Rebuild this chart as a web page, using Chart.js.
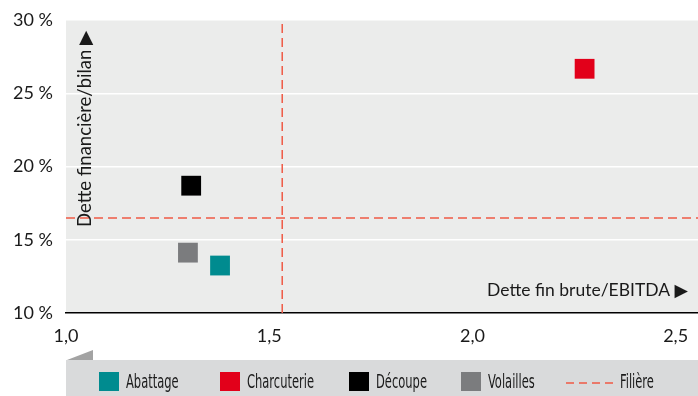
<!DOCTYPE html>
<html>
<head>
<meta charset="utf-8">
<script src="https://cdn.jsdelivr.net/npm/chart.js@4"></script>
<style>
  html, body { margin: 0; padding: 0; background: #fff; }
  #wrap { width: 698px; height: 396px; }
</style>
</head>
<body>
<div id="wrap"><canvas id="scatterChart" width="698" height="396"></canvas></div>
<script>
// Positionnement des secteurs : dette fin brute/EBITDA vs dette financière/bilan

const secteurs = ["Abattage", "Charcuterie", "Découpe", "Volailles"];
const detteEbitda = [1.379, 2.276, 1.308, 1.300];
const detteBilan = [13.24, 26.67, 18.69, 14.12];
const couleurs = ["#008b8f", "#e2001a", "#000000", "#7b7c7e"];

const filiereLabel = "Filière";
const filiereX = 1.532;   // moyenne filière dette/EBITDA
const filiereY = 16.48;   // moyenne filière dette/bilan

const xTicks = [1.0, 1.5, 2.0, 2.5];
const yTicks = [10, 15, 20, 25, 30];
const xMin = 1.0, xMax = 2.555;
const yMin = 10, yMax = 30;

const titreX = "Dette fin brute/EBITDA ▶";
const titreY = "Dette financière/bilan ▶";

const FONT = "'Lato', 'DejaVu Sans', sans-serif";
const FONT_LEG = "'Liberation Sans Narrow', 'DejaVu Sans Condensed', sans-serif";
const ROUGE_FIL = "#ef5a45";

const datasets = secteurs.map((nom, i) => ({
  type: "scatter",
  label: nom,
  data: [{ x: detteEbitda[i], y: detteBilan[i] }],
  backgroundColor: couleurs[i],
  borderColor: couleurs[i],
  borderWidth: 0,
  pointStyle: "rect",
  pointRadius: 14,
  pointHoverRadius: 14,
  order: 1
}));

// lignes de la filière (verticale + horizontale)
datasets.push({
  type: "line",
  label: filiereLabel,
  data: [{ x: filiereX, y: yMin }, { x: filiereX, y: yMax }],
  borderColor: ROUGE_FIL,
  borderWidth: 1.5,
  borderDash: [9, 5],
  pointRadius: 0,
  fill: false,
  order: 2
});
datasets.push({
  type: "line",
  label: "_hline",
  data: [{ x: xMin, y: filiereY }, { x: xMax, y: filiereY }],
  borderColor: ROUGE_FIL,
  borderWidth: 1.5,
  borderDash: [9, 5],
  pointRadius: 0,
  fill: false,
  order: 2
});

const fondPlot = {
  id: "fondPlot",
  beforeDraw(chart) {
    const { ctx, chartArea: a } = chart;
    ctx.save();
    ctx.fillStyle = "#ebeceb";
    ctx.fillRect(a.left, a.top, a.right - a.left, a.bottom - a.top);
    ctx.restore();
  }
};

const titres = {
  id: "titres",
  afterDatasetsDraw(chart) {
    const { ctx, chartArea: a } = chart;
    ctx.save();
    ctx.fillStyle = "#1a1a1a";
    ctx.font = "17.5px " + FONT;
    ctx.textBaseline = "middle";
    ctx.textAlign = "right";
    ctx.fillText(titreX, a.right - 10, a.bottom - 23);
    ctx.font = "18.5px " + FONT;
    ctx.translate(a.left + 19, 227);
    ctx.rotate(-Math.PI / 2);
    ctx.textAlign = "left";
    ctx.fillText(titreY, 0, 0);
    ctx.restore();
  }
};

// texte étroit façon "condensed"
function texteEtroit(ctx, txt, x, y, sx) {
  ctx.save();
  ctx.translate(x, y);
  ctx.scale(sx, 1);
  ctx.fillText(txt, 0, 0);
  ctx.restore();
}

const legende = {
  id: "legende",
  afterDraw(chart) {
    const { ctx } = chart;
    const top = 360, left = 66, right = 698, bottom = 396;
    ctx.save();
    // petit triangle
    ctx.fillStyle = "#a3a3a3";
    ctx.beginPath();
    ctx.moveTo(67, top);
    ctx.lineTo(93, top);
    ctx.lineTo(93, 350);
    ctx.closePath();
    ctx.fill();
    ctx.fillStyle = "#d9dadb";
    ctx.fillRect(left, top, right - left, bottom - top);

    const xs = [99, 220, 349, 461, 566];
    const cy = 383;
    ctx.font = "20px " + FONT_LEG;
    ctx.textBaseline = "middle";
    ctx.textAlign = "left";
    // largeur visée pour "Charcuterie" ~ 67 px
    const sx = Math.min(1, 67 / ctx.measureText("Charcuterie").width);
    chart.data.datasets.forEach((ds, i) => {
      if (ds.label.startsWith("_")) return;
      const x = xs[i];
      if (ds.type === "line") {
        ctx.strokeStyle = ds.borderColor;
        ctx.lineWidth = 1.6;
        ctx.setLineDash([8, 5]);
        ctx.beginPath();
        ctx.moveTo(x, cy);
        ctx.lineTo(x + 48, cy);
        ctx.stroke();
        ctx.setLineDash([]);
        ctx.fillStyle = "#1a1a1a";
        texteEtroit(ctx, ds.label, x + 54, cy, sx);
      } else {
        ctx.fillStyle = ds.backgroundColor;
        ctx.fillRect(x, 372, 20, 19);
        ctx.fillStyle = "#1a1a1a";
        texteEtroit(ctx, ds.label, x + 27, cy, sx);
      }
    });
    ctx.restore();
  }
};

const fmtX = v => v.toFixed(1).replace(".", ",");

new Chart(document.getElementById("scatterChart").getContext("2d"), {
  type: "scatter",
  data: { datasets: datasets },
  options: {
    responsive: false,
    animation: false,
    layout: { autoPadding: false, padding: { top: 20, right: 0, bottom: 43, left: 0 } },
    plugins: {
      legend: { display: false },
      tooltip: { enabled: false }
    },
    scales: {
      x: {
        type: "linear",
        min: xMin,
        max: xMax,
        afterBuildTicks: s => { s.ticks = xTicks.map(v => ({ value: v })); },
        afterFit: s => { s.height = 40; s.paddingLeft = 0; s.paddingRight = 0; },
        grid: { display: false, drawTicks: false },
        border: { display: true, color: "#000", width: 1.5 },
        ticks: {
          padding: 12,
          color: "#1a1a1a",
          font: { family: FONT, size: 18 },
          callback: v => fmtX(v),
          maxRotation: 0
        }
      },
      y: {
        type: "linear",
        min: yMin,
        max: yMax,
        afterBuildTicks: s => { s.ticks = yTicks.map(v => ({ value: v })); },
        afterFit: s => { s.width = 66; s.paddingTop = 0; s.paddingBottom = 0; },
        grid: { color: "#ffffff", lineWidth: 1.5, drawTicks: false },
        border: { display: false },
        ticks: {
          padding: 13,
          color: "#1a1a1a",
          font: { family: FONT, size: 18 },
          callback: v => v + " %"
        }
      }
    }
  },
  plugins: [fondPlot, titres, legende]
});
</script>
</body>
</html>
